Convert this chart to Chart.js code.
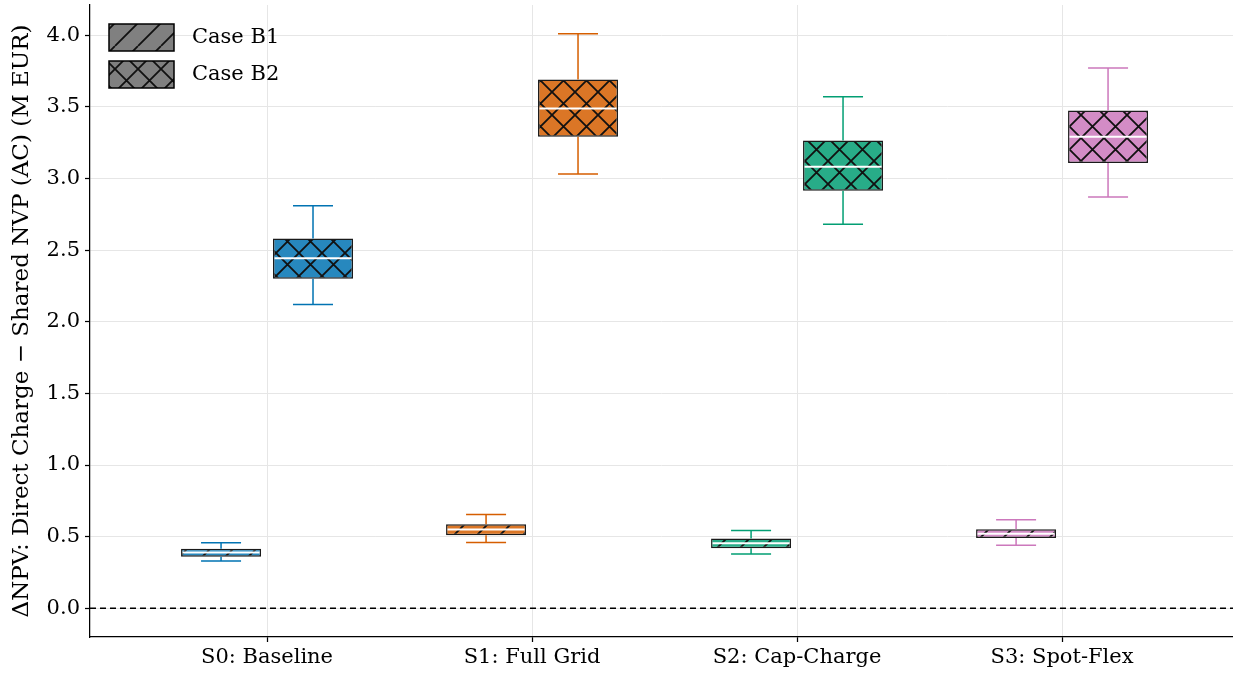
<!DOCTYPE html>
<html>
<head>
<meta charset="utf-8">
<script src="https://cdn.jsdelivr.net/npm/chart.js@4.4.1/dist/chart.umd.min.js"></script>
<style>
  html, body { margin: 0; padding: 0; background: #fff; }
  #wrap { width: 1233px; height: 674px; }
</style>
</head>
<body>
<div id="wrap"><canvas id="chart"></canvas></div>
<script>
// scenario labels
const categories = ['S0: Baseline', 'S1: Full Grid', 'S2: Cap-Charge', 'S3: Spot-Flex']
const yTicks = [0, 0.5, 1.0, 1.5, 2.0, 2.5, 3.0, 3.5, 4.0]

// Case B1 box stats
const b1Min = [0.33, 0.46, 0.38, 0.44]
const b1Q1 = [0.36, 0.51, 0.42, 0.49]
const b1Med = [0.39, 0.55, 0.455, 0.52]
const b1Q3 = [0.415, 0.587, 0.487, 0.552]
const b1Max = [0.457, 0.655, 0.543, 0.618]

// Case B2 box stats
const b2Min = [2.12, 3.03, 2.68, 2.87]
const b2Q1 = [2.30, 3.29, 2.914, 3.107]
const b2Med = [2.443, 3.487, 3.082, 3.29]
const b2Q3 = [2.58, 3.69, 3.264, 3.473]
const b2Max = [2.81, 4.01, 3.57, 3.77]

const lineColors = ['#0173b2', '#d55e00', '#029e73', '#cc78bc']
const fillColors = ['#2788be', '#db7626', '#28ac88', '#d38cc6']
const FONT = "'DejaVu Serif', serif"

const makeHatch = (fill, cross) => {
  const s = 23
  const c = document.createElement('canvas')
  c.width = s
  c.height = s
  const g = c.getContext('2d')
  g.fillStyle = fill
  g.fillRect(0, 0, s, s)
  g.strokeStyle = '#111'
  g.lineWidth = 1.8
  g.beginPath()
  for (const o of [-s, 0, s]) {
    g.moveTo(o, s)
    g.lineTo(o + s, 0)
    if (cross) {
      g.moveTo(o, 0)
      g.lineTo(o + s, s)
    }
  }
  g.stroke()
  return g.createPattern(c, 'repeat')
}

const stats = [
  { label: 'Case B1', min: b1Min, q1: b1Q1, med: b1Med, q3: b1Q3, max: b1Max, cross: false },
  { label: 'Case B2', min: b2Min, q1: b2Q1, med: b2Med, q3: b2Q3, max: b2Max, cross: true },
]

const boxExtras = {
  id: 'boxExtras',
  beforeDatasetsDraw(chart) {
    const { ctx, chartArea, scales } = chart
    const py = scales.y.getPixelForValue(0)
    ctx.save()
    ctx.setLineDash([6, 4])
    ctx.lineWidth = 1.5
    ctx.strokeStyle = '#000'
    ctx.beginPath()
    ctx.moveTo(chartArea.left, py)
    ctx.lineTo(chartArea.right, py)
    ctx.stroke()
    ctx.restore()
  },
  afterDatasetsDraw(chart) {
    const { ctx } = chart
    const y = chart.scales.y
    ctx.save()
    stats.forEach((s, di) => {
      const meta = chart.getDatasetMeta(di)
      meta.data.forEach((bar, i) => {
        const { x, width } = bar.getProps(['x', 'width'], true)
        const pMin = y.getPixelForValue(s.min[i])
        const pQ1 = y.getPixelForValue(s.q1[i])
        const pMed = y.getPixelForValue(s.med[i])
        const pQ3 = y.getPixelForValue(s.q3[i])
        const pMax = y.getPixelForValue(s.max[i])
        const cap = width / 4
        ctx.strokeStyle = lineColors[i]
        ctx.lineWidth = 1.5
        ctx.beginPath()
        ctx.moveTo(x, pQ3)
        ctx.lineTo(x, pMax)
        ctx.moveTo(x - cap, pMax)
        ctx.lineTo(x + cap, pMax)
        ctx.moveTo(x, pQ1)
        ctx.lineTo(x, pMin)
        ctx.moveTo(x - cap, pMin)
        ctx.lineTo(x + cap, pMin)
        ctx.stroke()
        ctx.strokeStyle = '#fff'
        ctx.lineWidth = 2
        ctx.beginPath()
        ctx.moveTo(x - width / 2 + 1.5, pMed)
        ctx.lineTo(x + width / 2 - 1.5, pMed)
        ctx.stroke()
      })
    })
    ctx.restore()
  },
  afterDraw(chart) {
    // legend in the upper left corner, like matplotlib
    const { ctx } = chart
    ctx.save()
    stats.forEach((s, k) => {
      const top = 24 + k * 37
      ctx.fillStyle = makeHatch('#808080', s.cross)
      ctx.fillRect(109, top, 65, 27)
      ctx.strokeStyle = '#000'
      ctx.lineWidth = 1.5
      ctx.strokeRect(109, top, 65, 27)
      ctx.fillStyle = '#000'
      ctx.font = `21px ${FONT}`
      ctx.textBaseline = 'middle'
      ctx.fillText(s.label, 192, top + 14)
    })
    ctx.restore()
  },
}

const datasets = stats.map((s) => ({
  label: s.label,
  data: s.q1.map((q, i) => ({ x: i, y: [q, s.q3[i]] })),
  backgroundColor: fillColors.map((c) => makeHatch(c, s.cross)),
  borderColor: '#1a1a1a',
  borderWidth: 1.5,
  borderSkipped: false,
  categoryPercentage: 0.694,
  barPercentage: 0.87,
}))

new Chart(document.getElementById('chart'), {
  type: 'bar',
  data: { datasets },
  plugins: [boxExtras],
  options: {
    responsive: true,
    maintainAspectRatio: false,
    animation: false,
    layout: { padding: { top: 5, right: 0, left: 0, bottom: 0 } },
    plugins: {
      legend: { display: false },
      tooltip: { enabled: false },
    },
    scales: {
      x: {
        type: 'linear',
        offset: false,
        min: -0.668,
        max: 3.645,
        afterBuildTicks: (axis) => {
          axis.ticks = categories.map((c, i) => ({ value: i }))
        },
        afterFit: (scale) => {
          scale.height = 37
          scale.paddingLeft = 0
          scale.paddingRight = 0
        },
        ticks: {
          callback: (v) => categories[v],
          color: '#000',
          font: { family: FONT, size: 21 },
          padding: 3,
          maxRotation: 0,
          autoSkip: false,
        },
        grid: { offset: false, color: '#e6e6e6', tickColor: '#000', tickLength: 5, tickWidth: 1.25 },
        border: { color: '#000', width: 1.25 },
      },
      y: {
        min: -0.2,
        max: 4.21,
        afterBuildTicks: (axis) => {
          axis.ticks = yTicks.map((v) => ({ value: v }))
        },
        afterFit: (scale) => {
          scale.width = 90
          scale.paddingTop = 0
          scale.paddingBottom = 0
        },
        ticks: {
          callback: (v) => v.toFixed(1),
          color: '#000',
          font: { family: FONT, size: 21 },
          padding: 5,
        },
        grid: { color: '#e6e6e6', tickColor: '#000', tickLength: 5, tickWidth: 1.25 },
        border: { color: '#000', width: 1.25 },
        title: {
          display: true,
          text: 'ΔNPV: Direct Charge − Shared NVP (AC) (M EUR)',
          color: '#000',
          font: { family: FONT, size: 23 },
          padding: { top: 8, bottom: 0 },
        },
      },
    },
  },
})
</script>
</body>
</html>
